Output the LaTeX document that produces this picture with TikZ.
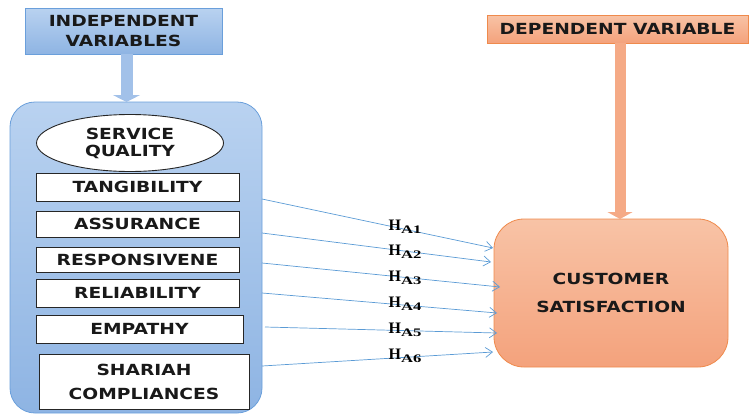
\documentclass[tikz,border=0pt]{standalone}
\usepackage{fontspec}
\usetikzlibrary{arrows.meta,shapes.geometric}
\newfontfamily\labfont[FakeStretch=1.22]{DejaVu Sans}
\newfontfamily\hfont{Liberation Serif}
\newfontfamily\hsubfont[FakeStretch=1.45]{Liberation Serif}
\definecolor{ivtop}{HTML}{B9D2F0}
\definecolor{ivbot}{HTML}{8EB4E3}
\definecolor{ivline}{HTML}{6A9FDB}
\definecolor{lnblue}{HTML}{5B9BD5}
\definecolor{ortop}{HTML}{F8C3A6}
\definecolor{orbot}{HTML}{F4A27C}
\definecolor{orline}{HTML}{EF8A4C}
\definecolor{orarrow}{HTML}{F5AA86}
\definecolor{blarrow}{HTML}{A2C1E9}
\newcommand{\hyp}[1]{{\hfont\bfseries\fontsize{16}{16}\selectfont H\raisebox{-3.5pt}{\hsubfont\bfseries\fontsize{11.5}{11.5}\selectfont A#1}}}
\tikzset{
  lab/.style={font=\labfont\bfseries\fontsize{15.3}{20}\selectfont, align=center, text=black!90},
  ivbox/.style={lab, draw=ivline, line width=0.8pt, top color=ivtop, bottom color=ivbot, inner sep=0pt, outer sep=0pt},
  orbox/.style={lab, draw=orline, line width=0.8pt, top color=ortop, bottom color=orbot, inner sep=0pt, outer sep=0pt},
  item/.style={lab, draw=black!85, line width=0.9pt, fill=white, inner sep=0pt, outer sep=0pt},
  fatblue/.style={draw=blarrow, line width=12pt, -{Triangle[width=27pt,length=7pt]}},
  fatorange/.style={draw=orarrow, line width=11pt, -{Triangle[width=25pt,length=7pt]}},
  conn/.style={draw=lnblue, line width=0.7pt, -{Straight Barb[length=7pt,width=10pt]}},
}
\begin{document}
\begin{tikzpicture}[x=1pt,y=-1pt]
\useasboundingbox (0,0) rectangle (754,415);
% independent side
\node[ivbox, minimum width=197pt, minimum height=46pt] (iv) at (123.5,31) {INDEPENDENT\\VARIABLES};
\node[ivbox, rounded corners=25pt, minimum width=252pt, minimum height=311pt] (cont) at (136,257.5) {};
\draw[fatblue] (iv.south) ++(3,0) coordinate (ivs) -- (ivs |- cont.north);
\node[lab, ellipse, draw=black!85, line width=0.9pt, fill=white, minimum width=187pt, minimum height=57pt, inner sep=0pt] (sq) at (130,143) {SERVICE\\[-3pt]QUALITY};
\node[item, minimum width=203pt, minimum height=28pt] (tan) at (137.5,187) {TANGIBILITY};
\node[item, minimum width=203pt, minimum height=26pt] (ass) at (137.5,224) {ASSURANCE};
\node[item, minimum width=203pt, minimum height=25pt] (res) at (137.5,259.5) {RESPONSIVENE};
\node[item, minimum width=203pt, minimum height=28pt] (rel) at (137.5,293) {RELIABILITY};
\node[item, minimum width=207pt, minimum height=28pt] (emp) at (139.5,329) {EMPATHY};
\node[item, minimum width=210pt, minimum height=55pt] (sha) at (144,381.5) {SHARIAH\\[4pt]COMPLIANCES};
% dependent side
\node[orbox, minimum width=261pt, minimum height=28pt] (dv) at (617.5,29) {DEPENDENT VARIABLE};
\node[orbox, rounded corners=30pt, minimum width=234pt, minimum height=148pt] (cs) at (611,293) {CUSTOMER\\[8pt]SATISFACTION};
\draw[fatorange] (dv.south) ++(2.5,0) coordinate (dvs) -- (dvs |- cs.north);
% connectors
\coordinate (s1) at (262,199); \coordinate (t1) at (493,248);
\coordinate (s2) at (262,233); \coordinate (t2) at (491,262);
\coordinate (s3) at (262,263); \coordinate (t3) at (500,287);
\coordinate (s4) at (262,293); \coordinate (t4) at (497,313);
\coordinate (s5) at (265,327); \coordinate (t5) at (497,333);
\coordinate (s6) at (262,366); \coordinate (t6) at (493,352);
\draw[conn] (s1) -- (t1);
\draw[conn] (s2) -- (t2);
\draw[conn] (s3) -- (t3);
\draw[conn] (s4) -- (t4);
\draw[conn] (s5) -- (t5);
\draw[conn] (s6) -- (t6);
\node (h1) at (405,227) {\hyp{1}};
\node (h2) at (405,252) {\hyp{2}};
\node (h3) at (405,278) {\hyp{3}};
\node (h4) at (405,304) {\hyp{4}};
\node (h5) at (405,330) {\hyp{5}};
\node (h6) at (405,356) {\hyp{6}};
\end{tikzpicture}
\end{document}
